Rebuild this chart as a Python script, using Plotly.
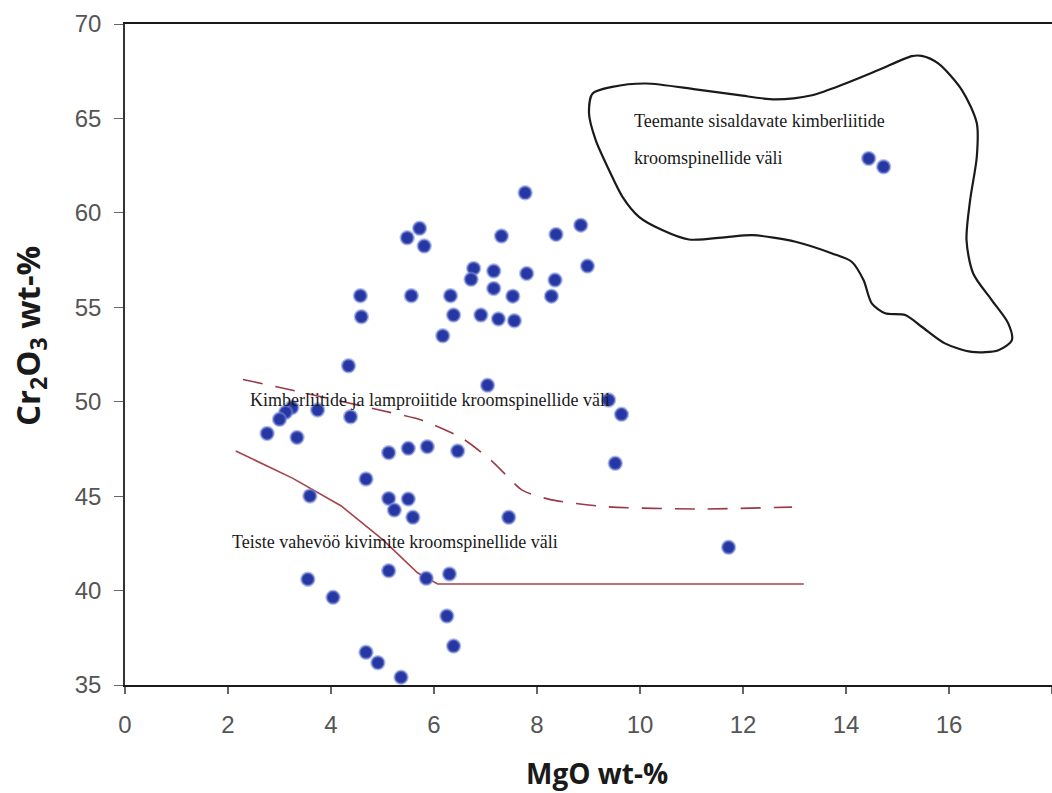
import plotly.graph_objects as go

# ---- data (MgO wt-%, Cr2O3 wt-%) ----
mgo = [7.77, 5.72, 5.48, 5.81, 7.31, 8.37, 8.85, 8.98, 6.77, 7.16,
       6.72, 7.80, 8.35, 7.16, 7.53, 8.28, 4.57, 5.56, 6.32, 4.59,
       6.38, 6.91, 7.25, 7.56, 6.17, 4.34, 7.04, 3.24, 3.12, 3.00,
       2.76, 3.74, 4.38, 3.34, 5.12, 5.50, 5.87, 6.46, 4.68, 3.59,
       5.12, 5.50, 5.23, 5.59, 7.45, 9.39, 9.64, 9.52, 11.72, 3.55,
       4.04, 5.12, 5.85, 6.30, 6.25, 6.38, 4.68, 4.91, 5.36, 14.44,
       14.73]
cr2o3 = [61.06, 59.18, 58.68, 58.24, 58.77, 58.86, 59.35, 57.18, 57.06, 56.92,
         56.48, 56.79, 56.44, 56.00, 55.59, 55.59, 55.61, 55.61, 55.61, 54.50,
         54.59, 54.59, 54.38, 54.29, 53.49, 51.90, 50.87, 49.69, 49.44, 49.07,
         48.32, 49.56, 49.20, 48.11, 47.30, 47.53, 47.62, 47.39, 45.91, 45.01,
         44.88, 44.85, 44.26, 43.88, 43.88, 50.09, 49.33, 46.74, 42.29, 40.60,
         39.64, 41.05, 40.65, 40.88, 38.65, 37.06, 36.73, 36.18, 35.41, 62.88,
         62.44]

# lower boundary (solid): other mantle rocks field
solid_x = [2.15, 3.26, 4.20, 5.01, 5.68, 6.07, 13.18]
solid_y = [47.39, 45.94, 44.48, 42.68, 40.94, 40.35, 40.35]

# upper boundary (dashed): kimberlite & lamproite field
dash_x = [2.29, 3.59, 4.94, 5.75, 6.55, 7.14, 7.71, 8.24, 9.34, 11.14, 12.95]
dash_y = [51.18, 50.40, 49.56, 49.03, 48.06, 46.82, 45.32, 44.83, 44.44, 44.32, 44.42]

# diamond-bearing kimberlite field outline
field_x = [9.08, 9.46, 10.11, 11.08, 11.92, 12.63, 13.34, 13.99, 14.63, 15.28,
           15.47, 15.79, 16.25, 16.54, 16.54, 16.41, 16.34, 16.47, 16.83, 17.15,
           17.22, 16.96, 16.44, 15.92, 15.47, 15.15, 14.76, 14.50, 14.34, 14.11,
           13.73, 13.02, 12.18, 11.72, 10.95, 10.43, 9.98, 9.66, 9.40, 9.14,
           9.01, 9.08]
field_y = [66.32, 66.67, 66.85, 66.54, 66.23, 66.01, 66.23, 66.85, 67.56, 68.30,
           68.31, 67.91, 66.50, 64.74, 62.97, 60.67, 58.56, 56.79, 55.38, 54.15,
           53.26, 52.73, 52.64, 53.09, 53.97, 54.59, 54.68, 55.21, 56.44, 57.41,
           57.85, 58.47, 58.82, 58.73, 58.59, 59.09, 59.79, 60.85, 62.26, 63.85,
           65.26, 66.32]

x_ticks = [0, 2, 4, 6, 8, 10, 12, 14, 16, 18]
y_ticks = [35, 40, 45, 50, 55, 60, 65, 70]

labels = {
    "field": ["Teemante sisaldavate kimberliitide", "kroomspinellide väli"],
    "kimb": "Kimberliitide ja lamproiitide kroomspinellide väli",
    "other": "Teiste vahevöö kivimite kroomspinellide väli",
}

fig = go.Figure()

fig.add_trace(go.Scatter(
    x=field_x, y=field_y, mode="lines",
    line=dict(color="#1a1a1a", width=2.2, shape="spline", smoothing=0.8),
    hoverinfo="skip", showlegend=False))

fig.add_trace(go.Scatter(
    x=dash_x, y=dash_y, mode="lines",
    line=dict(color="#9a3a48", width=1.6, dash="20px,13px", shape="spline", smoothing=0.6),
    hoverinfo="skip", showlegend=False))

fig.add_trace(go.Scatter(
    x=solid_x, y=solid_y, mode="lines",
    line=dict(color="#a8434d", width=1.6),
    hoverinfo="skip", showlegend=False))

fig.add_trace(go.Scatter(
    x=mgo, y=cr2o3, mode="markers",
    marker=dict(size=13, color="#2636a3",
                line=dict(color="rgba(120,140,215,0.55)", width=2.5)),
    showlegend=False))

serif = dict(family="Liberation Serif, Times New Roman, serif", size=18, color="#1a1a1a")

fig.add_annotation(x=9.84, y=64.86, text=labels["field"][0], showarrow=False,
                   xanchor="left", yanchor="middle", font=serif)
fig.add_annotation(x=9.84, y=62.90, text=labels["field"][1], showarrow=False,
                   xanchor="left", yanchor="middle", font=serif)
fig.add_annotation(x=2.38, y=50.09, text=labels["kimb"], showarrow=False,
                   xanchor="left", yanchor="middle", font=serif)
fig.add_annotation(x=2.03, y=42.59, text=labels["other"], showarrow=False,
                   xanchor="left", yanchor="middle", font=serif)

# axis titles
sans = "Open Sans, Liberation Sans, Arial, sans-serif"
fig.add_annotation(xref="paper", yref="paper", x=-0.1025, y=0.528,
                   text="<b>Cr<sub>2</sub>O<sub>3</sub> wt-%</b>", textangle=-90,
                   showarrow=False, xanchor="center", yanchor="middle",
                   font=dict(family=sans, size=33, color="#1a1a1a"))
fig.add_annotation(xref="paper", yref="paper", x=0.509, y=-0.133,
                   text="<b>MgO wt-%</b>", showarrow=False,
                   xanchor="center", yanchor="middle",
                   font=dict(family=sans, size=28, color="#1a1a1a"))

tickfont = dict(family="Liberation Sans, Arial, sans-serif", size=24, color="#555555")

fig.update_xaxes(range=[0, 18], tickvals=x_ticks, ticktext=[str(v) for v in x_ticks],
                 showgrid=False, zeroline=False,
                 showline=True, linecolor="#1a1a1a", linewidth=2, mirror=True,
                 ticks="outside", ticklen=7, tickcolor="#666666", tickwidth=1.5,
                 ticklabelstandoff=10, tickfont=tickfont)
fig.update_yaxes(range=[35, 70], tickvals=y_ticks, ticktext=[str(v) for v in y_ticks],
                 showgrid=False, zeroline=False,
                 showline=True, linecolor="#333333", linewidth=1.5,
                 ticks="outside", ticklen=9, tickcolor="#666666", tickwidth=1.2,
                 ticklabelstandoff=8, tickfont=tickfont)

fig.update_layout(width=1052, height=793,
                  margin=dict(l=125, r=0, t=24, b=108),
                  paper_bgcolor="white", plot_bgcolor="white")

fig.write_html("out.html", config={"displayModeBar": False},
               post_script="document.body.style.margin='0';document.body.style.overflow='hidden';")
